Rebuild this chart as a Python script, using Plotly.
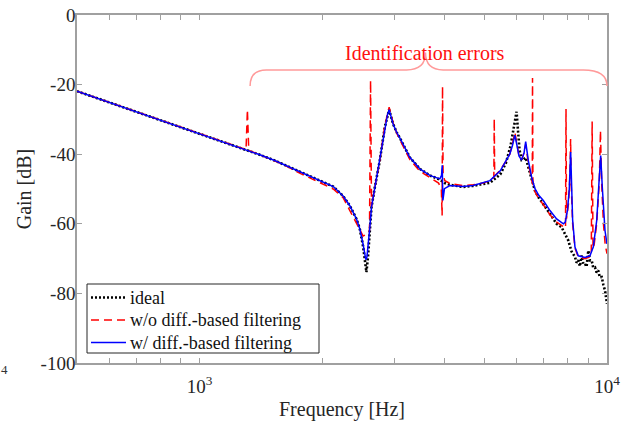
import math
import plotly.graph_objects as go

# ---------------- data ----------------
ideal_f = [500, 600, 700, 800, 1000, 1200, 1400, 1528, 1602, 1750, 1934, 2128, 2250, 2337,
           2427, 2473, 2519, 2545, 2567, 2590, 2617, 2642, 2692, 2769, 2848, 2890, 2919,
           2985, 3045, 3100, 3280, 3471, 3673, 3887, 3999, 4114, 4435, 4693, 4966, 5159,
           5470, 5650, 5800, 5900, 5960, 5998, 6040, 6100, 6172, 6240, 6315, 6380, 6450,
           6531, 6655, 6800, 6977, 7244, 7522, 7738, 7885, 8035, 8188, 8344, 8420, 8502,
           8580, 8666, 8750, 8830, 8910, 8997, 9080, 9170, 9250, 9344, 9430, 9520, 9600,
           9705, 9800, 9888, 10000]
ideal_db = [-21.9, -25.1, -27.8, -30.2, -34.1, -37.3, -40.1, -41.8, -42.9, -44.8, -47.1, -49.3,
            -52.0, -54.8, -58.6, -61.5, -66.5, -70.5, -73.9, -69.5, -61.5, -55.2, -49.5, -41.8,
            -32.2, -28.8, -27.2, -31.3, -33.7, -35.3, -40.9, -44.2, -46.1, -47.3, -48.3, -48.8,
            -49.4, -49.1, -48.6, -48.2, -45.8, -42.5, -37.5, -33.0, -29.5, -27.8, -32.5, -38.8,
            -41.7, -41.5, -41.0, -42.8, -45.0, -47.5, -50.5, -52.5, -54.3, -57.1, -60.0, -61.0,
            -62.9, -64.8, -68.0, -69.5, -71.2, -70.5, -72.2, -69.1, -71.6, -71.5, -72.3, -67.7,
            -70.5, -70.5, -72.6, -72.5, -74.0, -73.4, -75.4, -75.3, -77.6, -79.2, -83.0]

wo_f = [500, 600, 700, 800, 1000, 1200, 1300, 1310, 1320, 1400, 1528, 1602, 1750, 1934,
        2128, 2250, 2337, 2427, 2473, 2519, 2570, 2612, 2628, 2642, 2692, 2769, 2848, 2890,
        2919, 2985, 3045, 3100, 3280, 3471, 3673, 3860, 3920, 3938, 3947, 3960, 3999, 4114,
        4435, 4693, 4966, 5159, 5275, 5287, 5300, 5470, 5650, 5772, 5860, 5941, 6000, 6080,
        6172, 6260, 6315, 6360, 6409, 6531, 6555, 6564, 6580, 6655, 6800, 6977, 7244, 7522,
        7814, 7910, 7932, 7955, 8050, 8110, 8141, 8170, 8235, 8344, 8500, 8830, 9081, 9150,
        9195, 9240, 9300, 9434, 9574, 9637, 9700, 9800, 9900, 10000]
wo_db = [-21.9, -25.1, -27.8, -30.2, -34.1, -37.3, -38.7, -27.2, -38.9, -40.1, -41.8, -42.9,
         -45.3, -47.8, -50.0, -52.5, -56.2, -59.6, -61.5, -63.5, -63.0, -62.0, -18.8, -55.2,
         -49.5, -41.8, -31.8, -28.2, -26.5, -31.0, -33.9, -35.8, -41.5, -44.9, -46.7, -48.3,
         -50.0, -57.6, -20.5, -46.0, -47.6, -48.4, -49.0, -48.8, -48.3, -47.6, -46.6, -29.8,
         -46.3, -44.5, -42.0, -40.0, -37.0, -33.7, -36.5, -40.5, -41.5, -39.5, -37.2, -40.0,
         -42.5, -47.3, -48.3, -18.1, -49.0, -50.8, -52.8, -54.5, -57.4, -59.5, -60.7, -61.2,
         -27.0, -58.5, -54.0, -46.0, -35.6, -49.0, -60.0, -67.0, -69.5, -70.0, -69.5, -68.5,
         -30.6, -67.0, -66.0, -60.0, -48.0, -33.2, -48.0, -60.0, -66.0, -68.6]

w_f = [500, 600, 700, 800, 1000, 1200, 1400, 1528, 1602, 1750, 1934, 2128, 2250, 2337,
       2427, 2473, 2519, 2545, 2558, 2575, 2592, 2617, 2642, 2692, 2769, 2848, 2890, 2919,
       2985, 3045, 3100, 3280, 3471, 3673, 3887, 3925, 3940, 3955, 3990, 4114, 4435, 4693,
       4966, 5159, 5470, 5650, 5772, 5860, 5941, 6000, 6080, 6172, 6260, 6315, 6360, 6409,
       6531, 6655, 6800, 6977, 7244, 7522, 7814, 7900, 8000, 8080, 8143, 8190, 8235, 8344,
       8500, 8830, 9081, 9254, 9434, 9574, 9650, 9738, 9888, 10000]
w_db = [-21.9, -25.1, -27.8, -30.2, -34.1, -37.3, -40.1, -41.8, -42.9, -44.8, -47.1, -49.3,
        -52.0, -54.8, -58.6, -61.5, -65.8, -69.0, -70.3, -69.5, -66.7, -61.0, -55.2, -49.5,
        -41.8, -32.2, -28.8, -27.2, -31.3, -33.7, -35.3, -40.9, -44.2, -46.1, -47.1, -46.1,
        -43.2, -53.3, -49.9, -49.0, -49.3, -49.0, -48.2, -47.6, -44.8, -42.0, -40.0, -37.5,
        -34.5, -37.0, -40.5, -41.7, -39.5, -36.4, -39.0, -41.8, -46.6, -49.9, -51.8, -53.3,
        -56.2, -58.6, -60.0, -59.5, -56.0, -50.0, -39.4, -50.0, -58.9, -66.7, -69.2, -69.7,
        -69.2, -66.7, -59.1, -46.6, -40.4, -49.5, -62.0, -65.8]

series_names = ["ideal", "w/o diff.-based filtering", "w/ diff.-based filtering"]

x_tick_vals = [600, 700, 800, 900, 1000, 2000, 3000, 4000, 5000, 6000, 7000, 8000, 9000, 10000]
x_tick_text = ["", "", "", "", "10<sup>3</sup>", "", "", "", "", "", "", "", "", "10<sup>4</sup>"]
y_tick_vals = [0, -20, -40, -60, -80, -100]
y_tick_text = ["0", "-20", "-40", "-60", "-80", "-100"]

F_MIN, F_MAX = 500, 10000
DB_MIN, DB_MAX = -100, 0

# brace over the identification errors (frequency / gain positions)
brace_f = dict(start=1330, corner_l=1458, mid_l=3219, tip=3585, mid_r=3961, corner_r=8745, end=10000)
brace_db = dict(ends=-20.4, bar=-15.8, tip=-10.8)
label_f, label_db = 3570, -7.2

# ---------------- figure ----------------
FONT = "Liberation Serif"
AX_COLOR = "#A0A0A0"
W, H = 623, 422
ML, MR, MT, MB = 77, 16, 15, 59
PW, PH = W - ML - MR, H - MT - MB

styles = [dict(color="black", width=2.6, dash="2px,2px"),
          dict(color="#FF0000", width=1.5, dash="8px,5px"),
          dict(color="#0000FF", width=1.5)]


def xp(f):
    return (math.log10(f) - math.log10(F_MIN)) / (math.log10(F_MAX) - math.log10(F_MIN))


def yp(db):
    return (db - DB_MIN) / (DB_MAX - DB_MIN)


def px_x(px):
    return (px - ML) / PW


def px_y(py):
    return (H - MB - py) / PH


fig = go.Figure()
for fx, gy, name, st in zip([ideal_f, wo_f, w_f], [ideal_db, wo_db, w_db], series_names, styles):
    fig.add_trace(go.Scatter(x=fx, y=gy, mode="lines", name=name, line=st, showlegend=False))

b = brace_f
path = (f"M {xp(b['start'])},{yp(brace_db['ends'])} "
        f"Q {xp(b['start'])},{yp(brace_db['bar'])} {xp(b['corner_l'])},{yp(brace_db['bar'])} "
        f"L {xp(b['mid_l'])},{yp(brace_db['bar'])} "
        f"Q {xp(b['tip'])},{yp(brace_db['bar'])} {xp(b['tip'])},{yp(brace_db['tip'])} "
        f"Q {xp(b['tip'])},{yp(brace_db['bar'])} {xp(b['mid_r'])},{yp(brace_db['bar'])} "
        f"L {xp(b['corner_r'])},{yp(brace_db['bar'])} "
        f"Q {xp(b['end'])},{yp(brace_db['bar'])} {xp(b['end'])},{yp(brace_db['ends'])}")
fig.add_shape(type="path", path=path, xref="paper", yref="paper",
              line=dict(color="#FF9A9A", width=1.5))

fig.add_annotation(text="Identification errors", x=xp(label_f), y=yp(label_db),
                   xref="paper", yref="paper", showarrow=False,
                   font=dict(family=FONT, size=20, color="#FF1010"))
fig.add_annotation(text="4", x=px_x(-1), y=px_y(379), xref="paper", yref="paper",
                   showarrow=False, font=dict(family=FONT, size=13, color="#333333"))

# legend box (MATLAB style, compact rows)
fig.add_shape(type="rect", xref="paper", yref="paper",
              x0=px_x(87), x1=px_x(319), y0=px_y(353), y1=px_y(284),
              line=dict(color="#262626", width=1), fillcolor="white", layer="above")
row_y = [297.5, 320, 342.5]
for name, st, ry in zip(series_names, styles, row_y):
    fig.add_shape(type="line", xref="paper", yref="paper",
                  x0=px_x(91), x1=px_x(126), y0=px_y(ry), y1=px_y(ry),
                  line=st, layer="above")
    fig.add_annotation(text=name, x=px_x(128), y=px_y(ry), xref="paper", yref="paper",
                       xanchor="left", yanchor="middle", showarrow=False,
                       font=dict(family=FONT, size=18, color="#111111"))

fig.update_layout(
    width=W, height=H,
    margin=dict(l=ML, r=MR, t=MT, b=MB, autoexpand=False),
    paper_bgcolor="white", plot_bgcolor="white",
    font=dict(family=FONT, size=19, color="#262626"),
    showlegend=False,
)
fig.update_xaxes(type="log", range=[math.log10(F_MIN), math.log10(F_MAX)],
                 tickvals=x_tick_vals, ticktext=x_tick_text, automargin=False,
                 ticks="inside", ticklen=5, tickcolor=AX_COLOR, tickwidth=1,
                 showline=True, linecolor=AX_COLOR, linewidth=1.5, mirror="ticks",
                 showgrid=False, zeroline=False, ticklabelstandoff=5,
                 tickfont=dict(family=FONT, size=19, color="#262626"),
                 title=dict(text="Frequency [Hz]", standoff=6,
                            font=dict(family=FONT, size=20, color="#262626")))
fig.update_yaxes(range=[DB_MIN, DB_MAX], tickvals=y_tick_vals, ticktext=y_tick_text,
                 automargin=False,
                 ticks="inside", ticklen=5, tickcolor=AX_COLOR, tickwidth=1,
                 showline=True, linecolor=AX_COLOR, linewidth=1.5, mirror="ticks",
                 showgrid=False, zeroline=False, ticklabelstandoff=-4,
                 tickfont=dict(family=FONT, size=19, color="#262626"),
                 title=dict(text="Gain [dB]", standoff=4,
                            font=dict(family=FONT, size=20, color="#262626")))

fig.write_html("out.html", post_script="document.body.style.margin='0';",
               config={"displayModeBar": False})
